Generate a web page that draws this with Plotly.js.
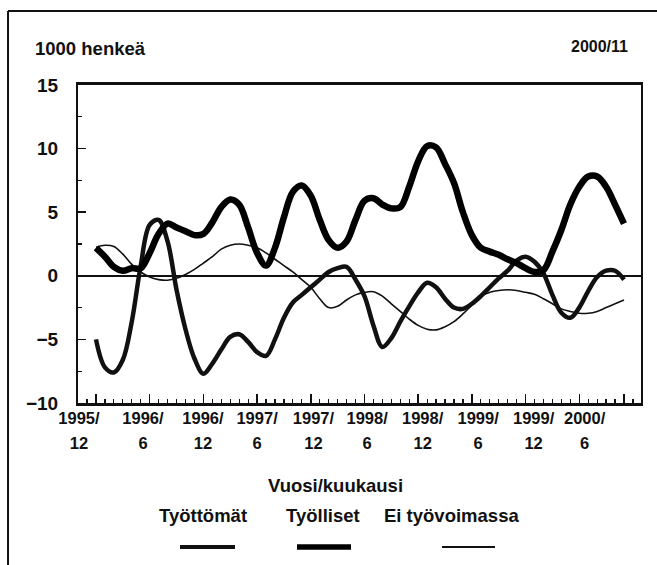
<!DOCTYPE html>
<html>
<head>
<meta charset="utf-8">
<script src="https://cdn.plot.ly/plotly-3.0.1.min.js"></script>
<style>html,body{margin:0;padding:0;background:#fff;}#chart{width:657px;height:565px;}</style>
</head>
<body>
<div id="chart"></div>
<script>
// Months: index 0 = 1995/12 ... 59 = 2000/11
const months = Array.from({length: 60}, (_, i) => i);

const tyottomat = [-5.0, -7.2, -7.6, -6.6, -3.6, 0.8, 4.0, 4.4, 2.7, -1.1,
  -4.2, -6.5, -7.7, -6.9, -5.8, -4.8, -4.6, -5.2, -6.0, -6.3,
  -5.0, -3.3, -2.1, -1.5, -0.9, -0.3, 0.3, 0.6, 0.7, -0.3,
  -1.6, -3.9, -5.6, -4.9, -3.6, -2.4, -1.3, -0.55, -0.9, -1.8,
  -2.5, -2.6, -2.2, -1.6, -0.9, -0.2, 0.4, 1.2, 1.5, 1.1,
  0.2, -1.5, -2.9, -3.3, -2.5, -1.2, -0.1, 0.4, 0.4, -0.3];

const tyolliset = [2.2, 1.5, 0.7, 0.4, 0.6, 0.6, 1.8, 3.3, 4.1, 3.8,
  3.5, 3.2, 3.3, 4.2, 5.4, 6.0, 5.6, 3.8, 1.8, 0.8,
  2.2, 4.6, 6.6, 7.1, 6.3, 4.4, 2.8, 2.2, 2.7, 4.4,
  5.9, 6.1, 5.6, 5.3, 5.4, 7.0, 9.0, 10.2, 10.1, 8.8,
  7.3, 5.0, 3.2, 2.2, 1.9, 1.65, 1.3, 1.0, 0.6, 0.3,
  0.45, 1.9, 3.6, 5.6, 7.0, 7.8, 7.8, 7.0, 5.6, 4.1];

const eiTyovoimassa = [2.25, 2.4, 2.3, 1.7, 0.9, 0.3, -0.1, -0.3, -0.35, -0.2,
  0.1, 0.5, 1.0, 1.5, 2.1, 2.4, 2.5, 2.4, 2.2, 1.8,
  1.3, 0.8, 0.3, -0.3, -0.9, -1.8, -2.5, -2.4, -1.9, -1.5,
  -1.3, -1.25, -1.6, -2.2, -2.8, -3.4, -3.9, -4.2, -4.25, -4.0,
  -3.6, -3.0, -2.3, -1.6, -1.3, -1.15, -1.1, -1.15, -1.3, -1.45,
  -1.8, -2.2, -2.6, -2.8, -2.95, -2.95, -2.8, -2.5, -2.2, -1.9];

const seriesNames = ['Työttömät', 'Työlliset', 'Ei työvoimassa'];

// Tick marks every 6 months, plus end month
const majorTicks = [0, 6, 12, 18, 24, 30, 36, 42, 48, 54, 59];
// Label positions (as printed, slightly offset from ticks)
const labelPos = [-1.9, 5.25, 11.95, 18, 24.3, 30.3, 36.5, 42.7, 48.9, 54.6];
const labelYear = ['1995/', '1996/', '1996/', '1997/', '1997/', '1998/', '1998/', '1999/', '1999/', '2000/'];
const labelMonth = ['12', '6', '12', '6', '12', '6', '12', '6', '12', '6'];

const yTicks = [-10, -5, 0, 5, 10, 15];

const FONT = 'Liberation Sans, Arial, sans-serif';
const INK = '#111';

const traces = [
  {x: months, y: eiTyovoimassa, name: seriesNames[2], mode: 'lines',
   line: {color: INK, width: 1.6, shape: 'spline', smoothing: 1}},
  {x: months, y: tyottomat, name: seriesNames[0], mode: 'lines',
   line: {color: INK, width: 4.5, shape: 'spline', smoothing: 1}},
  {x: months, y: tyolliset, name: seriesNames[1], mode: 'lines',
   line: {color: '#000', width: 6.5, shape: 'spline', smoothing: 1}},
  // empty helper traces so the label axes are drawn
  {x: [], y: [], xaxis: 'x2', yaxis: 'y', mode: 'lines', hoverinfo: 'skip', showlegend: false},
  {x: [], y: [], xaxis: 'x3', yaxis: 'y', mode: 'lines', hoverinfo: 'skip', showlegend: false}
];

const xRange = [-2.01, 60.9];
const baseX = {range: xRange, showgrid: false, zeroline: false, fixedrange: true};
const tickFont = {family: FONT, size: 16.5, color: INK, weight: 'bold'};
const textFont = {family: FONT, size: 18.5, color: INK, weight: 'bold'};

const layout = {
  width: 657, height: 565,
  margin: {l: 78, r: 16, t: 85, b: 162},
  paper_bgcolor: '#fff', plot_bgcolor: '#fff',
  showlegend: false,
  font: {family: FONT, color: INK, size: 16},
  xaxis: Object.assign({}, baseX, {
    tickmode: 'array', tickvals: majorTicks, showticklabels: false,
    ticks: 'inside', ticklen: 9, tickwidth: 1.5, tickcolor: INK,
    minor: {dtick: 1, tick0: 0, ticks: 'inside', ticklen: 4, tickwidth: 1.2, tickcolor: INK},
    showline: true, linecolor: INK, linewidth: 3, mirror: true
  }),
  xaxis2: Object.assign({}, baseX, {
    overlaying: 'x', anchor: 'y', side: 'bottom',
    tickmode: 'array', tickvals: labelPos, ticktext: labelYear,
    ticks: '', showline: false, ticklabelstandoff: 3, tickfont: tickFont
  }),
  xaxis3: Object.assign({}, baseX, {
    overlaying: 'x', anchor: 'y', side: 'bottom',
    tickmode: 'array', tickvals: labelPos, ticktext: labelMonth,
    ticks: '', showline: false, ticklabelstandoff: 28, tickfont: tickFont
  }),
  yaxis: {
    range: [-10, 15], tickmode: 'array', tickvals: yTicks,
    ticks: 'inside', ticklen: 8, tickwidth: 1.5, tickcolor: INK,
    minor: {dtick: 2.5, tick0: 0, ticks: 'inside', ticklen: 4, tickwidth: 1.2, tickcolor: INK},
    showgrid: false, zeroline: true, zerolinecolor: INK, zerolinewidth: 1.6,
    showline: true, linecolor: INK, linewidth: 2, mirror: true,
    ticklabelstandoff: 14, fixedrange: true,
    tickfont: {family: FONT, size: 19, color: INK, weight: 'bold'}
  },
  annotations: [
    {text: '1000 henkeä', xref: 'paper', yref: 'paper', x: -0.08, y: 1.114,
     xanchor: 'left', yanchor: 'middle', showarrow: false, font: textFont},
    {text: '2000/11', xref: 'paper', yref: 'paper', x: 0.9805, y: 1.12,
     xanchor: 'right', yanchor: 'middle', showarrow: false,
     font: {family: FONT, size: 16, color: INK, weight: 'bold'}},
    {text: 'Vuosi/kuukausi', xref: 'paper', yref: 'paper', x: 0.4565, y: -0.261,
     xanchor: 'center', yanchor: 'middle', showarrow: false, font: textFont},
    {text: seriesNames[0], xref: 'paper', yref: 'paper', x: 0.222, y: -0.355,
     xanchor: 'center', yanchor: 'middle', showarrow: false, font: textFont},
    {text: seriesNames[1], xref: 'paper', yref: 'paper', x: 0.435, y: -0.355,
     xanchor: 'center', yanchor: 'middle', showarrow: false, font: textFont},
    {text: seriesNames[2], xref: 'paper', yref: 'paper', x: 0.664, y: -0.355,
     xanchor: 'center', yanchor: 'middle', showarrow: false, font: textFont}
  ],
  shapes: [
    // outer frame: left and top edges
    {type: 'line', xref: 'paper', yref: 'paper', x0: -0.1243, x1: -0.1243, y0: -0.6, y1: 1.2327,
     line: {color: INK, width: 2}, layer: 'above'},
    {type: 'line', xref: 'paper', yref: 'paper', x0: -0.1243, x1: 1.05, y0: 1.2327, y1: 1.2327,
     line: {color: INK, width: 2}, layer: 'above'},
    // legend keys
    {type: 'line', xref: 'paper', yref: 'paper', x0: (180-78)/563, x1: (235-78)/563, y0: -0.453, y1: -0.453,
     line: {color: INK, width: 4}},
    {type: 'line', xref: 'paper', yref: 'paper', x0: (297-78)/563, x1: (351-78)/563, y0: -0.453, y1: -0.453,
     line: {color: '#000', width: 5.5}},
    {type: 'line', xref: 'paper', yref: 'paper', x0: (442-78)/563, x1: (495-78)/563, y0: -0.453, y1: -0.453,
     line: {color: INK, width: 2}}
  ]
};

Plotly.newPlot('chart', traces, layout, {displayModeBar: false, staticPlot: true});
</script>
</body>
</html>
